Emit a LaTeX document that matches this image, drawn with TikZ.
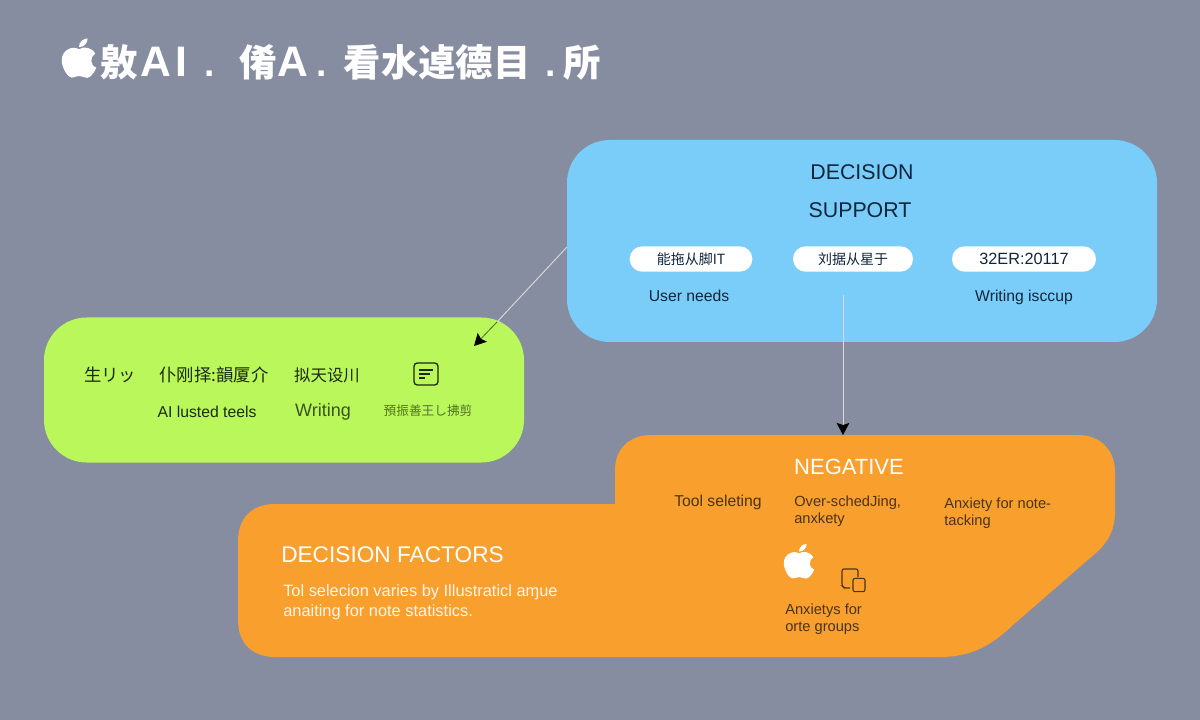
\documentclass[tikz,border=0pt]{standalone}
\usepackage{fontspec}
\setmainfont{Liberation Sans}
\newfontfamily\cjk{Noto Sans CJK SC}
\usetikzlibrary{arrows.meta}
\definecolor{slatebg}{HTML}{868DA0}
\definecolor{skybox}{HTML}{79CDF8}
\definecolor{limebox}{HTML}{B9F75B}
\definecolor{orangebox}{HTML}{F99F2E}
\definecolor{inkblue}{HTML}{10263C}
\definecolor{inkgreen}{HTML}{1C2A10}
\definecolor{inkbrown}{HTML}{4A3414}
\tikzset{
  box/.style={rounded corners=32pt,minimum width=#1,inner sep=0pt},
  pill/.style={fill=white,rounded corners=9.4pt,inner sep=0pt,minimum height=19pt,text=inkblue,font=\fontsize{10.5}{10.5}\selectfont},
  subcap/.style={font=\fontsize{11.8}{11.8}\selectfont,inner sep=0pt},
  note/.style={font=\fontsize{11}{12.75}\selectfont,inner sep=0pt,align=left,text=inkbrown},
  heading/.style={inner sep=0pt,font=\fontsize{16}{16}\selectfont},
  link/.style={draw=white!85!black,line width=0.7pt},
  tiplink/.style={line width=0.6pt,-{Stealth[length=9pt,width=9.5pt,inset=1.5pt,black]}},
}
\newcommand{\applelogo}[3]{% x, y of the centre, scale
  \fill[white,shift={(#1,#2)},scale=#3] (0,-9) .. controls (4,-12) and (12,-11) .. (15,-5)
    .. controls (10,-2) and (10,6) .. (16,8) .. controls (13,15) and (9,19) .. (5,17)
    .. controls (2,15.5) and (-2,15.5) .. (-5,17) .. controls (-10,19) and (-16,8) .. (-16,1)
    .. controls (-16,-8) and (-6,-13) .. (0,-9) -- cycle;
  \fill[white,shift={(#1,#2)},scale=#3] (0,-11) .. controls (0,-16) and (4,-19) .. (8,-19)
    .. controls (8,-15) and (5,-11) .. (0,-11) -- cycle;
}
\begin{document}
\begin{tikzpicture}[x=0.75pt,y=-0.75pt]
\fill [slatebg] (0,0) rectangle (1200,720);
\useasboundingbox (0,0) rectangle (1200,720);
% title
\applelogo{79}{59}{1.08}
\node [anchor=west,inner sep=0pt,text=white,font=\fontsize{28}{28}\selectfont\bfseries] (title) at (100,62)
  {{\cjk 敫}\hspace{2pt}{\fontsize{32}{32}\selectfont A\hspace{3pt}I}\hspace{13pt}.\hspace{19pt}{\cjk 倄}{\fontsize{32}{32}\selectfont A}\hspace{6pt}.\hspace{13pt}{\cjk 看水逴德目}\hspace{11pt}.\hspace{6pt}{\cjk 所}};
% boxes
\node [box=442.5pt,minimum height=151.5pt,fill=skybox] (support) at (862,241) {};
\node [box=360pt,minimum height=108.75pt,fill=limebox] (tools) at (284,390) {};
\fill [orangebox] (275,504) -- (615,504) -- (615,470) .. controls (615,448) and (630,435) .. (652,435)
  -- (1078,435) .. controls (1100,435) and (1115,450) .. (1115,472)
  -- (1115,512) .. controls (1115,530) and (1108,542) .. (1097,552)
  -- (1013,625) .. controls (995,642) and (975,657) .. (940,657)
  -- (275,657) .. controls (252,657) and (238,643) .. (238,620)
  -- (238,541) .. controls (238,518) and (252,504) .. (275,504) -- cycle;
% blue box
\node [heading,text=inkblue] (dtitle) at (862,172) {DECISION};
\node [heading,text=inkblue] (stitle) at (860,210) {SUPPORT};
\node [pill,minimum width=92pt] (pilla) at (691,259) {\cjk 能拖从脚IT};
\node [pill,minimum width=90pt] (pillb) at (853,259) {\cjk 刘据从星于};
\node [pill,minimum width=108pt,font=\fontsize{12.2}{12.2}\selectfont] (pillc) at (1024,259) {32ER:20117};
\node [subcap,text=inkblue] (needs) at (689,296) {User needs};
\node [subcap,text=inkblue] (cup) at (1024,297) {Writing isccup};
% green box
\begin{scope}[every node/.style={inner sep=0pt,text=inkgreen,font=\fontsize{13}{13}\selectfont}]
\node (ga) at (110,375) {\cjk 生リッ};
\node (gb) at (214,375) {\cjk 仆刚择:韻厦介};
\node (gc) at (327,375) {\fontsize{12.3}{12.3}\selectfont\cjk 拟天设川};
\end{scope}
\node [draw=inkgreen,line width=1pt,rounded corners=2.5pt,minimum width=18pt,minimum height=16.5pt,inner sep=0pt] (gicon) at (426,374) {};
\draw [inkgreen,line width=0.9pt] (419,370) -- (433,370) (419,374) -- (430,374) (419,378) -- (425,378);
\node [subcap,text=inkgreen] (gd) at (207,412) {AI lusted teels};
\node [subcap,text=inkgreen!80!limebox,font=\fontsize{13.5}{13.5}\selectfont] (ge) at (323,412) {Writing};
\node [subcap,text=inkgreen!65!limebox,font=\fontsize{9.5}{9.5}\selectfont\cjk] (gf) at (428,411) {預振善王し拂剪};
% orange box
\node [heading,text=white,font=\fontsize{16.5}{16.5}\selectfont] (neg) at (849,467) {NEGATIVE};
\node [note,font=\fontsize{11.8}{12.75}\selectfont] (na) at (718,502) {Tool seleting};
\node [note,anchor=west] (nb) at (794,511) {Over-schedJing,\\anxkety};
\node [note,anchor=west] (nc) at (944,513) {Anxiety for note-\\tacking};
\applelogo{799}{562}{0.95}
\node [note,anchor=west] (nd) at (785,619) {Anxietys for\\orte groups};
\draw [inkbrown,line width=0.8pt,rounded corners=1.5pt] (850,588) -- (844,588) -- (842,586) -- (842,569) -- (858,569) -- (858,577);
\node [draw=inkbrown,fill=orangebox,line width=0.8pt,rounded corners=1.5pt,minimum width=9pt,minimum height=10pt,inner sep=0pt] (ndev) at (859,585) {};
\node [heading,text=white,font=\fontsize{17}{17}\selectfont] (factors) at (392.5,555) {DECISION FACTORS};
\node [inner sep=0pt,anchor=west,align=left,text=white!90!orangebox,font=\fontsize{12.3}{15}\selectfont] (ftext) at (283,602)
  {Tol selecion varies by Illustraticl aɱue\\anaiting for note statistics.};
% arrows
\coordinate (tipa) at (474,346);
\coordinate (tipb) at (843,435);
\coordinate (taila) at (567,247);
\coordinate (tailb) at (843,295);
\coordinate (crossa) at (497,322);
\draw [link] (taila)--(crossa);
\draw [tiplink,draw=inkgreen!70!limebox] (crossa)--(tipa);
\draw [link,tiplink] (tailb)--(tipb);
\end{tikzpicture}
\end{document}
